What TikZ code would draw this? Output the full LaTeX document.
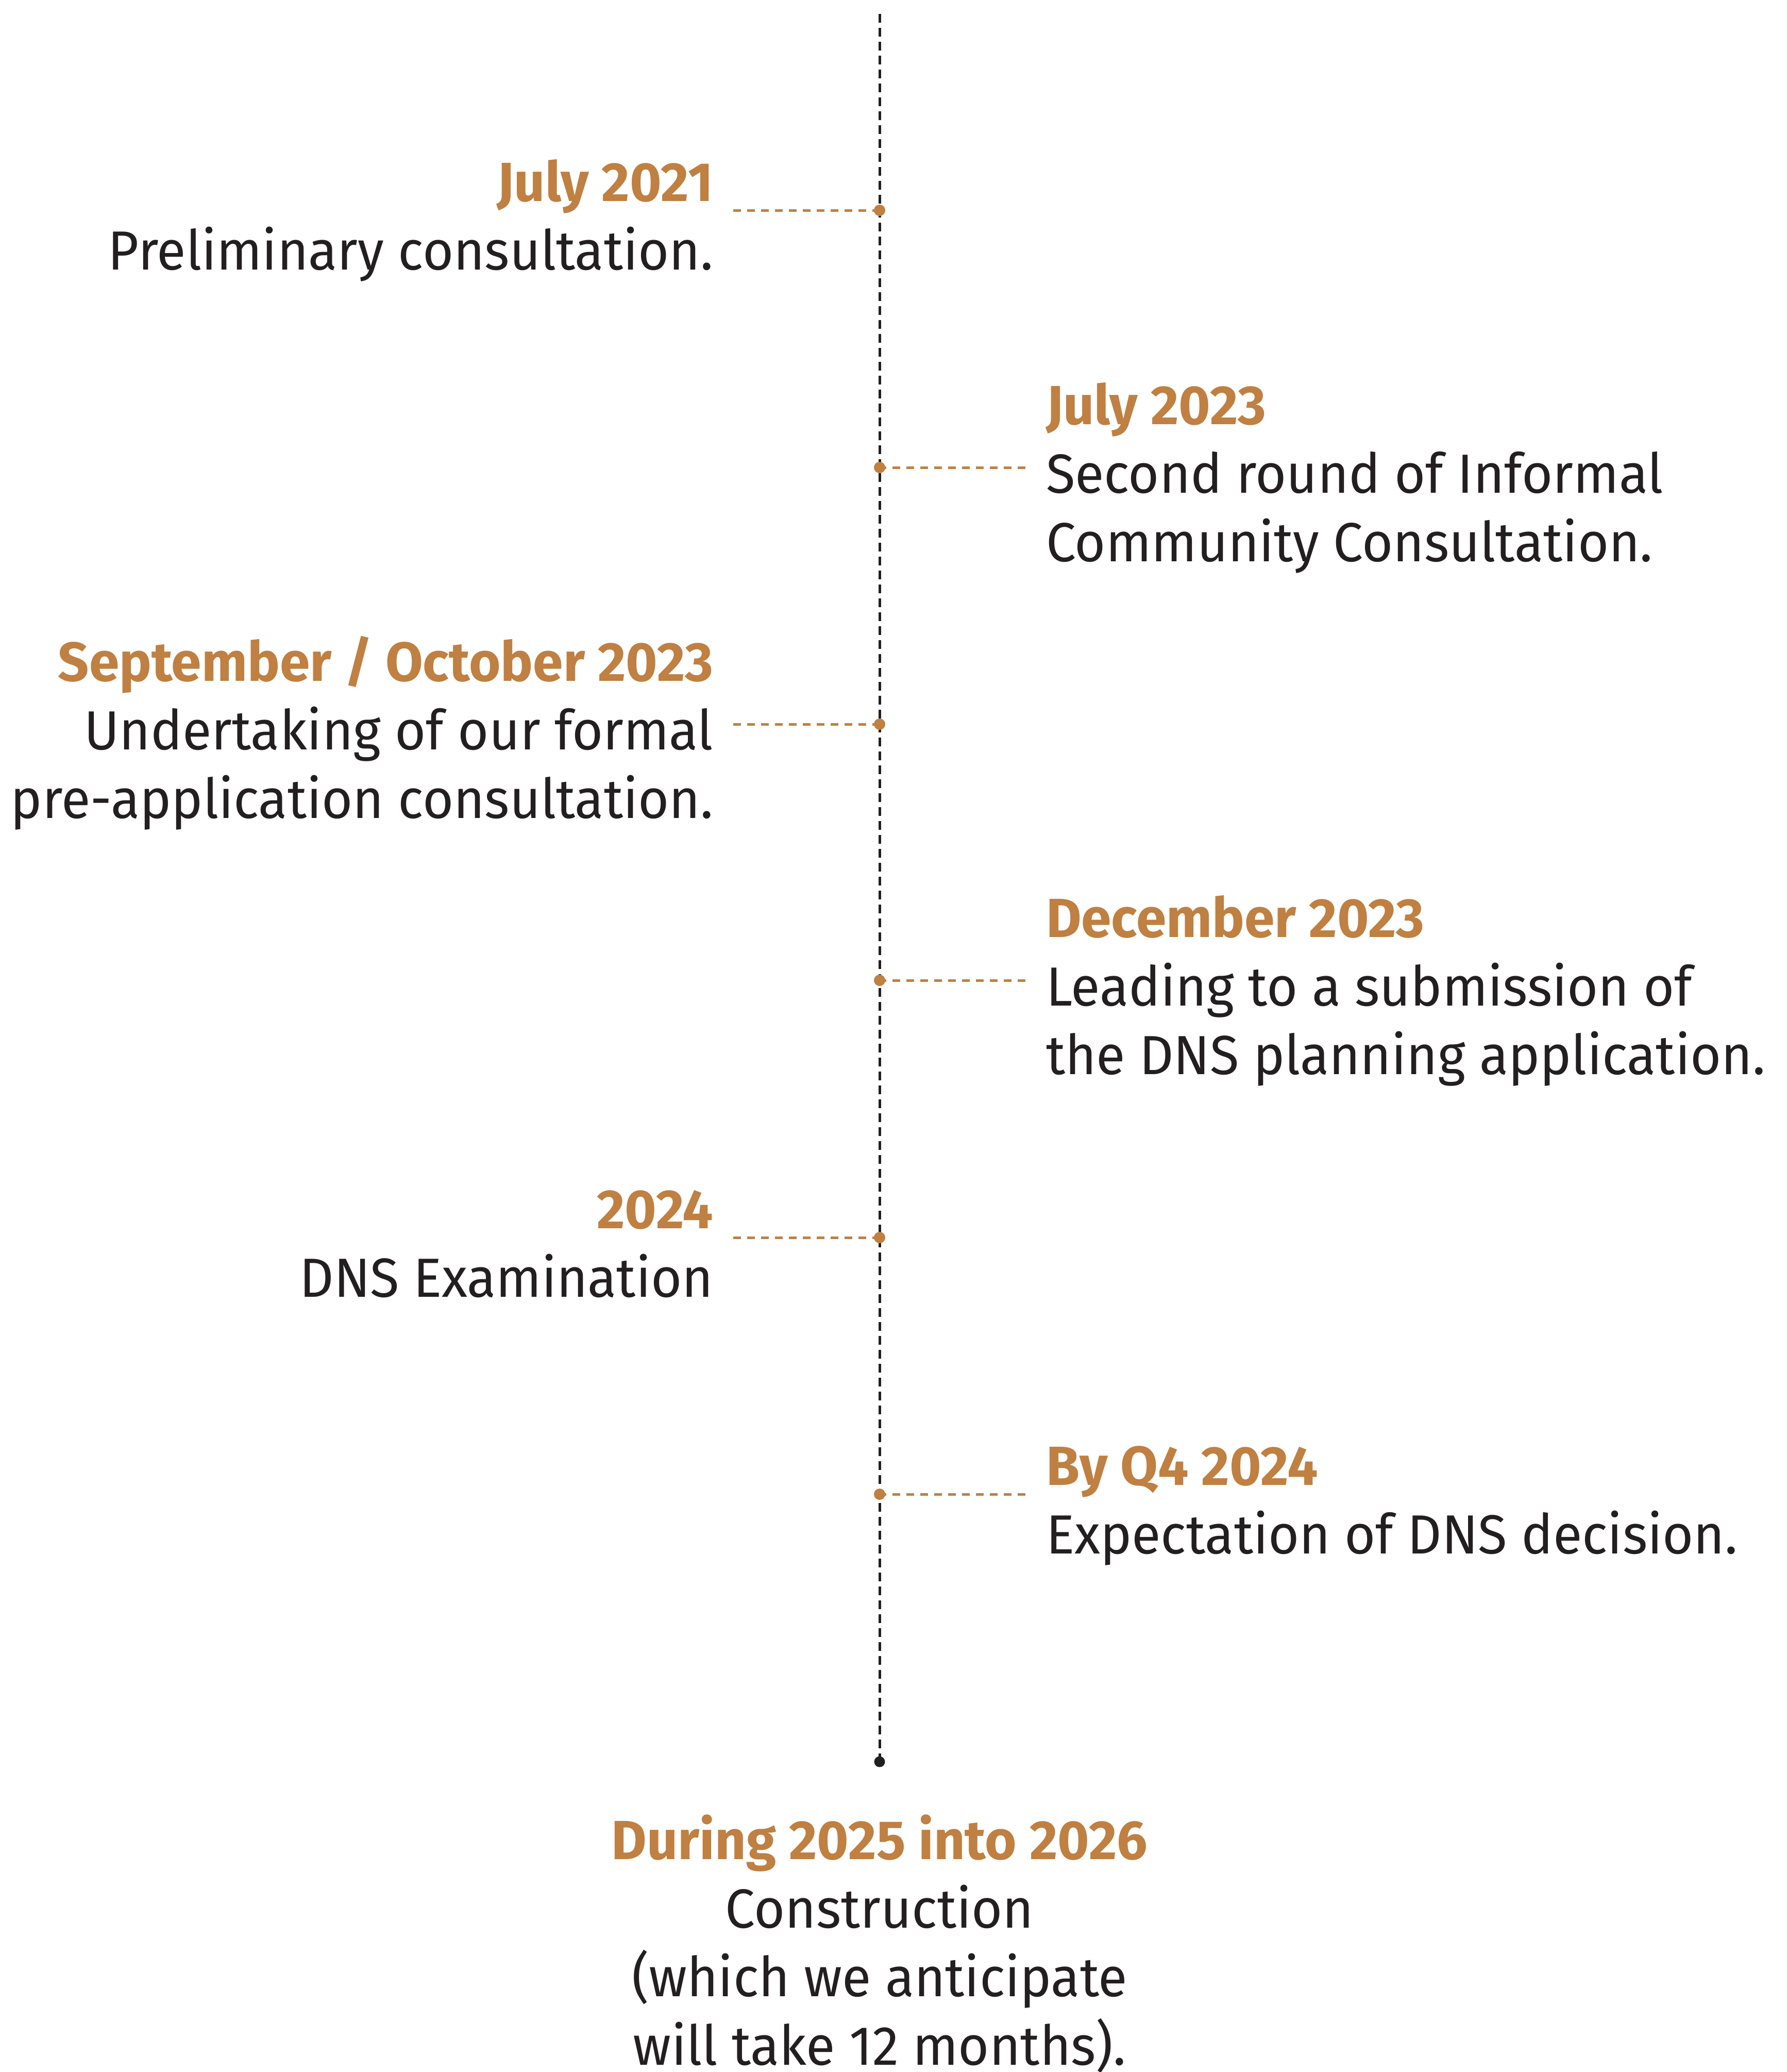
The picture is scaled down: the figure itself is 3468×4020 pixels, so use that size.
\documentclass[tikz,border=0pt]{standalone}
\usepackage{fontspec}
\setmainfont{Fira Sans}[UprightFeatures={FakeStretch=0.965},BoldFeatures={FakeStretch=0.985}]
\definecolor{gold}{RGB}{191,128,66}
\definecolor{ink}{RGB}{35,31,32}
\newcommand\evtitle[1]{{\bfseries\color{gold}#1}}
\begin{document}
\begin{tikzpicture}[x=1pt,y=-1pt,
 txt/.style={font=\fontsize{107pt}{133pt}\selectfont, text=ink, inner sep=0pt, outer sep=0pt},
 lefttxt/.style={txt, align=right, anchor=base east},
 righttxt/.style={txt, align=left, anchor=base west},
 spine/.style={draw=ink, line width=5pt, dash pattern=on 17pt off 10pt},
 tick/.style={draw=gold, line width=5pt, dash pattern=on 15pt off 12pt},
 gdot/.style={circle, fill=gold, minimum size=22pt, inner sep=0pt},
 kdot/.style={circle, fill=ink, minimum size=21pt, inner sep=0pt}]
\useasboundingbox (0,0) rectangle (3468,4020);
% points
\coordinate (top) at (1707,27);
\coordinate (p1) at (1707,408);
\coordinate (p2) at (1707,907);
\coordinate (p3) at (1707,1405);
\coordinate (p4) at (1707,1902);
\coordinate (p5) at (1707,2401);
\coordinate (p6) at (1707,2899);
\coordinate (pend) at (1707,3418);
\coordinate (o1) at (1423,408);
\coordinate (o2) at (1990,907);
\coordinate (o3) at (1423,1405);
\coordinate (o4) at (1990,1902);
\coordinate (o5) at (1423,2401);
\coordinate (o6) at (1990,2899);
% lines
\draw[spine] (top) -- (pend);
\foreach \i in {1,...,6} {\draw[tick] (o\i) -- (p\i);}
% dots
\foreach \i in {1,...,6} {\node[gdot] (d\i) at (p\i) {};}
\node[kdot] (dend) at (pend) {};
% texts (base anchor = baseline of last line)
\node[lefttxt] (t1) at (1384,523) {\evtitle{July 2021}\\Preliminary consultation.};
\node[righttxt] (t2) at (2030,1089) {\evtitle{July 2023}\\Second round of Informal\\Community Consultation.};
\node[lefttxt] (t3) at (1384,1587) {\evtitle{September / October 2023}\\Undertaking of our formal\\pre-application consultation.};
\node[righttxt] (t4) at (2030,2084) {\evtitle{December 2023}\\Leading to a submission of\\the DNS planning application.};
\node[lefttxt] (t5) at (1384,2516) {\evtitle{2024}\\DNS Examination};
\node[righttxt] (t6) at (2030,3014) {\evtitle{By Q4 2024}\\Expectation of DNS decision.};
\node[txt, align=center, anchor=base] (t7) at (1707,4006) {\evtitle{During 2025 into 2026}\\Construction\\(which we anticipate\\will take 12 months).};
\end{tikzpicture}
\end{document}
